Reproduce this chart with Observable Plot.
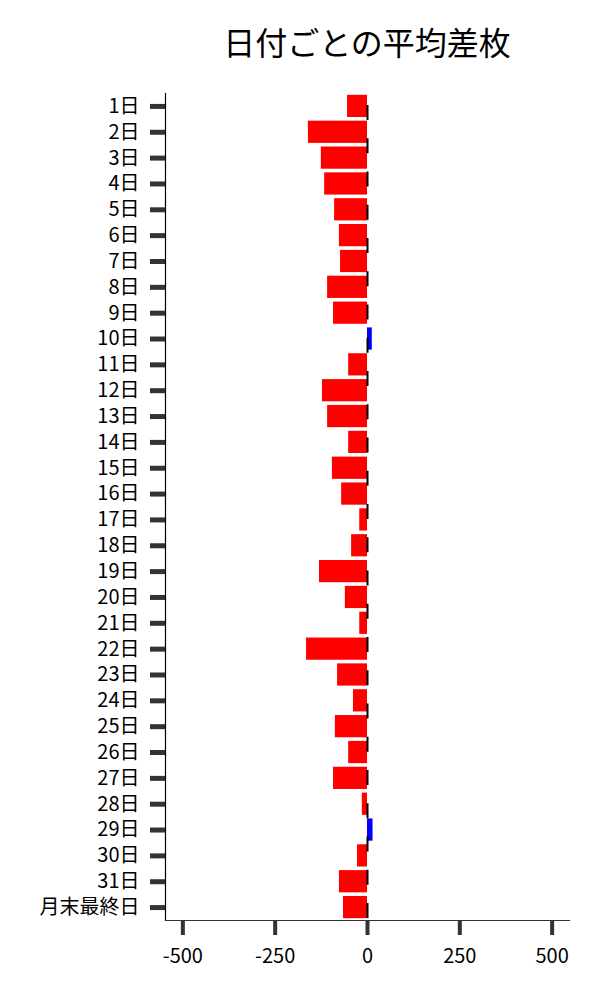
<!DOCTYPE html>
<html>
<head>
<meta charset="utf-8">
<script src="https://cdn.jsdelivr.net/npm/d3@7"></script>
<script src="https://cdn.jsdelivr.net/npm/@observablehq/plot@0.6"></script>
<style>
  body { margin: 0; background: #fff; font-family: "Noto Sans CJK JP", "Noto Sans", sans-serif; }
  #title { width: 600px; height: 80px; box-sizing: border-box; padding-left: 134px; text-align: center;
           font-size: 32px; line-height: 82px; color: #000; font-family: "Noto Sans CJK JP", sans-serif; }
</style>
</head>
<body>
<div id="title">日付ごとの平均差枚</div>
<div id="chart"></div>
<script>
const days = ["1日","2日","3日","4日","5日","6日","7日","8日","9日","10日",
  "11日","12日","13日","14日","15日","16日","17日","18日","19日","20日",
  "21日","22日","23日","24日","25日","26日","27日","28日","29日","30日","31日","月末最終日"];
const values = [-54,-160,-125,-116,-89,-76,-73,-108,-92,13,
  -51,-122,-108,-51,-95,-70,-21,-43,-130,-60,
  -21,-165,-81,-38,-87,-51,-92,-14,15,-27,-76,-65];
const xTicks = [-500,-250,0,250,500];

const data = days.map((d, i) => ({day: d, value: values[i], sign: values[i] > 0 ? "pos" : "neg"}));

const font = "Noto Sans CJK JP";
const chart = Plot.plot({
  width: 600,
  height: 920,
  marginTop: 13,
  marginBottom: 80,
  marginLeft: 165,
  marginRight: 31,
  style: {fontFamily: font, background: "white", color: "black"},
  x: {domain: [-547, 547], ticks: xTicks, label: null},
  y: {domain: days, paddingInner: 0.14, paddingOuter: 0.07, round: false, label: null},
  color: {domain: ["neg","pos"], range: ["#ff0000","#0000ff"]},
  marks: [
    Plot.barX(data, {x: "value", y: "day", fill: "sign"}),
    Plot.ruleX([0], {stroke: "black", strokeWidth: 2, strokeDasharray: "15,18.25", strokeDashoffset: 21.25}),
    Plot.frame({anchor: "left", stroke: "black", strokeWidth: 1.2}),
    Plot.frame({anchor: "bottom", stroke: "#333", strokeWidth: 1.2}),
    Plot.axisY({tickSize: 15, tickPadding: 11, fontSize: 20, stroke: "#333", strokeWidth: 5, fill: "black", label: null}),
    Plot.axisX({ticks: xTicks, tickSize: 15, tickPadding: 13, fontSize: 20, stroke: "#333", strokeWidth: 4, fill: "black", label: null, tickFormat: d => String(d)})
  ]
});
document.getElementById("chart").appendChild(chart);
</script>
</body>
</html>
